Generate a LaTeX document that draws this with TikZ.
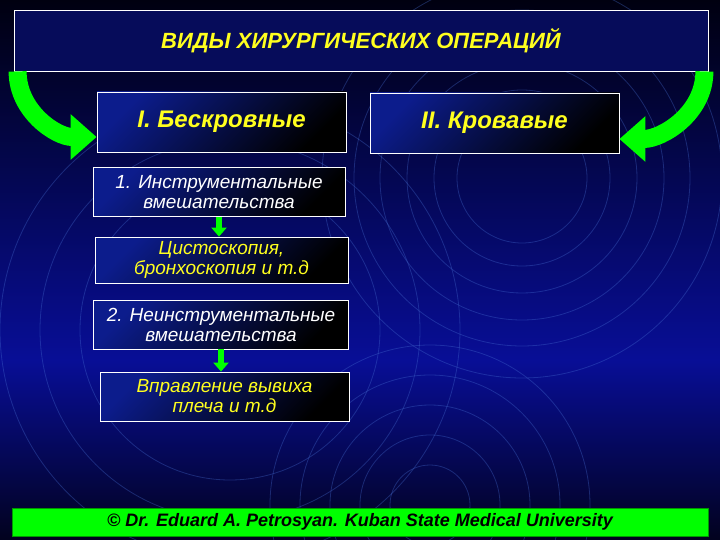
\documentclass[tikz,border=0pt]{standalone}
\usepackage{fontspec}
\setmainfont{Liberation Sans}
\usetikzlibrary{arrows.meta}
\definecolor{fonverh}{RGB}{0,0,16}
\definecolor{fonser}{RGB}{8,14,150}
\definecolor{fonniz}{RGB}{2,2,30}
\definecolor{kolco}{RGB}{70,110,210}
\definecolor{zelen}{RGB}{0,255,0}
\definecolor{zhelt}{RGB}{255,255,30}
\definecolor{sinbox}{RGB}{12,28,140}
\definecolor{sintitul}{RGB}{6,12,90}
\tikzset{
	ramka/.style={draw=white, line width=0.8pt, top color=sinbox, bottom color=black, shading angle=45, align=center, inner sep=0pt},
	malaya/.style={ramka, minimum height=49pt, font=\fontsize{19}{20}\selectfont\itshape},
	bolshaya/.style={ramka, minimum width=249pt, minimum height=60pt, font=\fontsize{24}{28}\selectfont\bfseries\itshape},
	strelka/.style={zelen, line width=6pt, -{Triangle[width=15pt,length=9pt]}},
	dugastr/.style={zelen, line width=18pt, -{Triangle[width=44pt,length=26pt]}},
}
\begin{document}
\begin{tikzpicture}[x=1pt,y=-1pt]
		% fon
		\shade[top color=fonverh, bottom color=fonser] (0,0) rectangle (720,360);
		\shade[top color=fonser, bottom color=fonniz] (0,360) rectangle (720,540);
		\useasboundingbox (0,0) rectangle (720,540);
		\begin{scope}[kolco, opacity=0.35, line width=0.8pt]
			\foreach \r in {65,88,115,142,168,200}{
				\draw (522,178) circle (\r);
			}
			\foreach \r in {40,70,100,130,160}{
				\draw (430,505) circle (\r);
			}
			\foreach \r in {150,190,230}{
				\draw (230,330) circle (\r);
			}
		\end{scope}
		% zagolovok
		\node[draw=white, line width=0.8pt, fill=sintitul, minimum width=694pt, minimum height=61pt, font=\fontsize{22}{26}\selectfont\bfseries\itshape, text=zhelt] (title) at (361,40.5) {ВИДЫ ХИРУРГИЧЕСКИХ ОПЕРАЦИЙ};
		\node[bolshaya, text=zhelt] (bI) at (221.5,122) {I. Бескровные};
		\node[bolshaya, text=zhelt] (bII) at (494.5,123) {II. Кровавые};
		\draw[dugastr] ([xshift=4pt]title.south west) to[out=-90, in=180] ([yshift=-15pt]bI.west);
		\draw[dugastr] ([xshift=-4pt]title.south east) to[out=-90, in=0] ([yshift=-16pt]bII.east);
		% bezkrovnye
		\node[malaya, minimum width=252pt, text=white] (b1) at (219,192) {1. Инструментальные\\вмешательства};
		\node[malaya, minimum width=253pt, minimum height=46pt, text=zhelt] (b1a) at (221.5,260) {Цистоскопия,\\бронхоскопия и т.д};
		\node[malaya, minimum width=255pt, text=white] (b2) at (221,324.5) {2. Неинструментальные\\вмешательства};
		\node[malaya, minimum width=249pt, text=zhelt] (b2a) at (224.5,396.5) {Вправление вывиха\\плеча и т.д};
		\draw[strelka] (b1.south) -- (b1.south |- b1a.north);
		\draw[strelka] (b2.south) -- (b2.south |- b2a.north);
		% podval
		\node[fill=zelen, draw=zelen!60!black, minimum width=696pt, minimum height=28pt, inner sep=0pt, font=\fontsize{18}{20}\selectfont\bfseries\itshape] (podval) at (360,522) {© Dr. Eduard A. Petrosyan. Kuban State Medical University};
	\end{tikzpicture}
\end{document}
